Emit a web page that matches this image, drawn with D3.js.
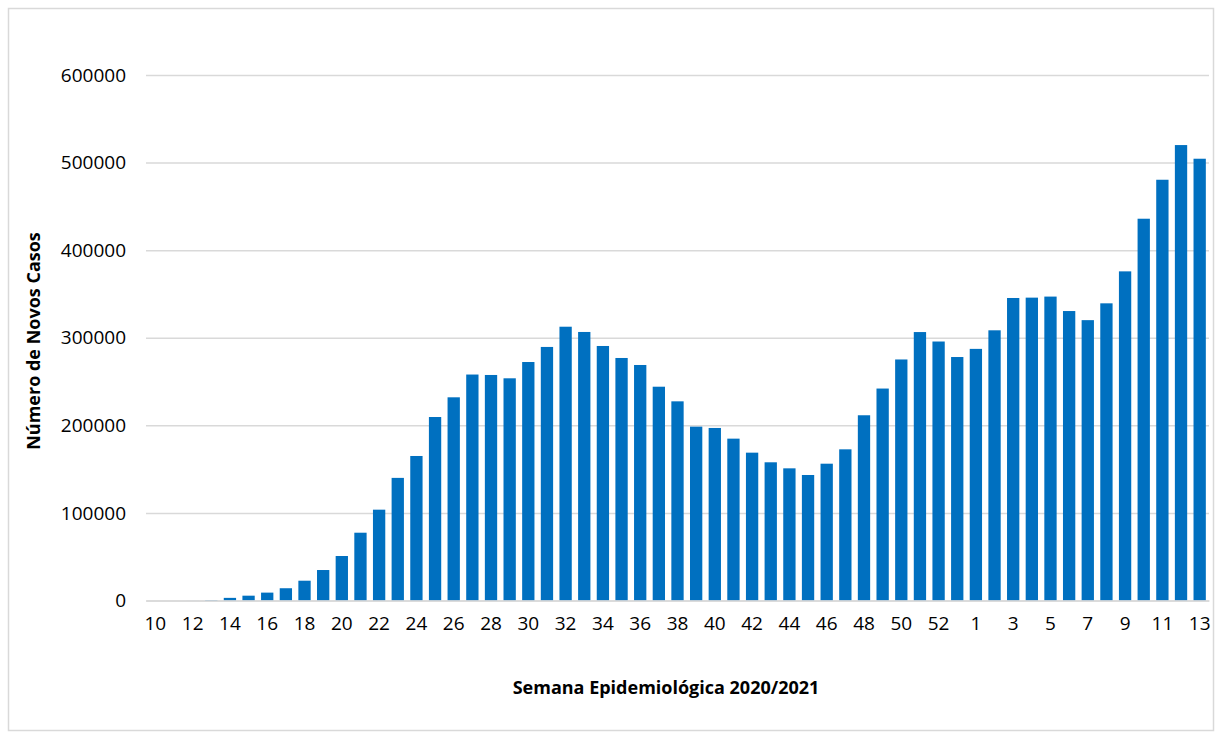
<!DOCTYPE html>
<html>
<head>
<meta charset="utf-8">
<script src="https://cdn.jsdelivr.net/npm/d3@7"></script>
<style>
  html, body { margin: 0; padding: 0; background: #fff; }
  svg { display: block; font-family: "Open Sans", sans-serif; }
</style>
</head>
<body>
<svg id="chart" width="1215" height="732" viewBox="0 0 1215 732"></svg>
<script>
const weeks2020 = [10, 11, 12, 13, 14, 15, 16, 17, 18, 19, 20, 21, 22, 23, 24, 25, 26, 27, 28, 29, 30, 31,
  32, 33, 34, 35, 36, 37, 38, 39, 40, 41, 42, 43, 44, 45, 46, 47, 48, 49, 50, 51, 52, 53]
const weeks2021 = [1, 2, 3, 4, 5, 6, 7, 8, 9, 10, 11, 12, 13]

const cases2020 = [0, 0, 50, 500, 3000, 5500, 9000, 14000, 22600, 34800, 50800, 77400, 103700, 140000,
  165000, 209500, 232000, 258000, 257500, 253700, 272300, 289500, 312600, 306600, 290600, 276900,
  268900, 244100, 227400, 198500, 197000, 184800, 168800, 157800, 150900, 143300, 156200, 172600,
  211500, 242000, 275200, 306500, 295700, 278000]
const cases2021 = [287300, 308500, 345400, 345800, 347000, 330500, 320100, 339300, 375800, 435900,
  480400, 520000, 504400]

const yTicks = [0, 100000, 200000, 300000, 400000, 500000, 600000]

const data = [
  ...weeks2020.map((w, i) => ({ key: `2020-${w}`, label: String(w), value: cases2020[i] })),
  ...weeks2021.map((w, i) => ({ key: `2021-${w}`, label: String(w), value: cases2021[i] })),
]

const svg = d3.select("#chart")
const margin = { top: 75, right: 6, bottom: 131.5, left: 146 }
const width = 1215, height = 732
const innerWidth = width - margin.left - margin.right
const innerHeight = height - margin.top - margin.bottom

// chart border
svg.append("rect")
  .attr("x", 8.5).attr("y", 8.5)
  .attr("width", 1205).attr("height", 722)
  .attr("fill", "none")
  .attr("stroke", "#d9d9d9")
  .attr("stroke-width", 1.5)

const x = d3.scaleBand()
  .domain(data.map((d) => d.key))
  .range([0, innerWidth])
  .paddingInner(0.34)
  .paddingOuter(0.17)
const y = d3.scaleLinear()
  .domain([0, 600000])
  .range([innerHeight, 0])

const g = svg.append("g").attr("transform", `translate(${margin.left},${margin.top})`)

// gridlines + y tick labels
g.append("g")
  .call(d3.axisLeft(y).tickValues(yTicks).tickSize(-innerWidth).tickPadding(20).tickFormat(d3.format("d")))
  .attr("font-family", "Open Sans")
  .attr("font-size", 19)
  .call((axis) => axis.select(".domain").remove())
  .call((axis) => axis.selectAll("line").attr("stroke", "#d9d9d9").attr("stroke-width", 1.5))
  .call((axis) => axis.selectAll("text").attr("fill", "#000"))

g.selectAll("rect.bar")
  .data(data)
  .join("rect")
  .attr("class", "bar")
  .attr("x", (d) => x(d.key))
  .attr("y", (d) => y(d.value))
  .attr("width", x.bandwidth())
  .attr("height", (d) => innerHeight - y(d.value))
  .attr("fill", "#0070c0")

// x axis, every other label
g.append("g")
  .attr("transform", `translate(0,${innerHeight})`)
  .call(d3.axisBottom(x).tickSize(0).tickPadding(16)
    .tickValues(data.filter((d, i) => i % 2 === 0).map((d) => d.key))
    .tickFormat((k) => data.find((d) => d.key === k).label))
  .attr("font-family", "Open Sans")
  .attr("font-size", 19)
  .call((axis) => axis.select(".domain").attr("stroke", "#d9d9d9").attr("stroke-width", 1.5))
  .call((axis) => axis.selectAll("text").attr("fill", "#000"))

svg.append("text")
  .attr("x", 666)
  .attr("y", 694)
  .attr("text-anchor", "middle")
  .attr("font-weight", "bold")
  .attr("font-size", 18)
  .text("Semana Epidemiológica 2020/2021")

svg.append("text")
  .attr("transform", "translate(40,341) rotate(-90)")
  .attr("text-anchor", "middle")
  .attr("font-weight", "bold")
  .attr("font-size", 18)
  .text("Número de Novos Casos")
</script>
</body>
</html>
